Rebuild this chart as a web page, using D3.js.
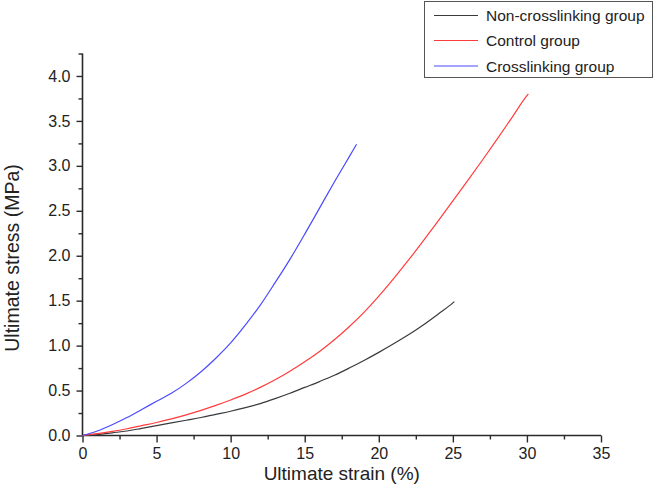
<!DOCTYPE html>
<html>
<head>
<meta charset="utf-8">
<script src="https://cdn.jsdelivr.net/npm/d3@7/dist/d3.min.js"></script>
<style>
  html, body { margin: 0; padding: 0; background: #fff; }
  svg { display: block; font-family: "Liberation Sans", Arial, sans-serif; }
</style>
</head>
<body>
<svg id="chart" width="660" height="498"></svg>
<script>
// ---- data ----
const seriesNames = ["Non-crosslinking group", "Control group", "Crosslinking group"];
const seriesColors = ["#3a3a3a", "#ff3c3c", "#4a4aff"];

const nonCrossStrain = [0, 1, 2, 3, 4, 5, 6, 7, 8, 9, 10, 11, 12, 13, 14, 15, 16, 17, 18, 19, 20, 21, 22, 23, 24, 25, 25.1];
const nonCrossStress = [0, 0.01, 0.03, 0.05, 0.08, 0.11, 0.14, 0.17, 0.20, 0.235, 0.27, 0.31, 0.355, 0.41, 0.47, 0.535, 0.60, 0.67, 0.75, 0.835, 0.925, 1.02, 1.12, 1.23, 1.35, 1.475, 1.49];

const controlStrain = [0, 1, 2, 3, 4, 5, 6, 7, 8, 9, 10, 11, 12, 13, 14, 15, 16, 17, 18, 19, 20, 21, 22, 23, 24, 25, 26, 27, 28, 29, 30, 30.1];
const controlStress = [0, 0.02, 0.045, 0.075, 0.11, 0.145, 0.185, 0.23, 0.28, 0.335, 0.395, 0.46, 0.535, 0.62, 0.715, 0.82, 0.935, 1.065, 1.21, 1.37, 1.55, 1.745, 1.95, 2.165, 2.385, 2.61, 2.835, 3.065, 3.30, 3.54, 3.78, 3.80];

const crossStrain = [0, 1, 2, 3, 4, 5, 6, 7, 8, 9, 10, 11, 12, 13, 14, 15, 16, 17, 18, 18.5];
const crossStress = [0, 0.05, 0.12, 0.20, 0.29, 0.38, 0.47, 0.58, 0.71, 0.86, 1.03, 1.23, 1.45, 1.70, 1.96, 2.24, 2.53, 2.82, 3.10, 3.24];

const xTickValues = [0, 5, 10, 15, 20, 25, 30, 35];
const yTickValues = [0, 0.5, 1.0, 1.5, 2.0, 2.5, 3.0, 3.5, 4.0];
const xTitle = "Ultimate strain (%)";
const yTitle = "Ultimate stress (MPa)";

// ---- layout ----
const svg = d3.select("#chart");
const plotLeft = 82.5, plotRight = 601, plotTop = 53.5, plotBottom = 435.5;
const x = d3.scaleLinear().domain([0, 35]).range([plotLeft, plotRight]);
const y = d3.scaleLinear().domain([0, 4.25]).range([plotBottom, plotTop]);

const axisColor = "#2a2a2a";

// minor ticks
const xMinor = d3.range(0, 35.001, 2.5).filter(v => v % 5 !== 0);
const yMinor = d3.range(0, 4.2501, 0.25).filter(v => Math.abs(v * 2 - Math.round(v * 2)) > 1e-6);

// X axis
const gx = svg.append("g").attr("transform", `translate(0,${plotBottom})`);
gx.call(d3.axisBottom(x).tickValues(xTickValues).tickFormat(d3.format("d")).tickSize(7).tickPadding(5));
gx.append("g").call(d3.axisBottom(x).tickValues(xMinor).tickFormat("").tickSize(4)).select(".domain").remove();

// Y axis
const gy = svg.append("g").attr("transform", `translate(${plotLeft},0)`);
gy.call(d3.axisLeft(y).tickValues(yTickValues).tickFormat(d3.format(".1f")).tickSize(6).tickPadding(6));
gy.append("g").call(d3.axisLeft(y).tickValues(yMinor).tickFormat("").tickSize(4)).select(".domain").remove();

svg.selectAll(".domain").attr("stroke", axisColor).attr("stroke-width", 1.6);
svg.selectAll(".tick line").attr("stroke", axisColor).attr("stroke-width", 1.4);
svg.selectAll(".tick text").attr("fill", "#222").style("font-size", "16px").style("font-family", '"Liberation Sans", Arial, sans-serif');
gx.select(".domain").attr("d", `M${plotLeft},0H${plotRight}`);
gy.select(".domain").attr("d", `M0,${plotBottom}V${plotTop}`);

// axis titles
svg.append("text")
  .attr("x", (plotLeft + plotRight) / 2).attr("y", 480)
  .attr("text-anchor", "middle")
  .attr("fill", "#222").style("font-size", "19px")
  .text(xTitle);
svg.append("text")
  .attr("transform", `translate(19,258) rotate(-90)`)
  .attr("text-anchor", "middle")
  .attr("fill", "#222").style("font-size", "19.5px")
  .text(yTitle);

// lines
const series = [
  { strain: nonCrossStrain, stress: nonCrossStress },
  { strain: controlStrain, stress: controlStress },
  { strain: crossStrain, stress: crossStress }
];
const line = d3.line().x(d => x(d[0])).y(d => y(d[1])).curve(d3.curveMonotoneX);
series.forEach((s, i) => {
  const pts = s.strain.map((v, j) => [v, s.stress[j]]);
  svg.append("path")
    .attr("d", line(pts))
    .attr("fill", "none")
    .attr("stroke", seriesColors[i])
    .attr("stroke-width", 1.2);
});

// legend
const lg = svg.append("g");
lg.append("rect")
  .attr("x", 424.5).attr("y", 1.5).attr("width", 228).attr("height", 76)
  .attr("fill", "#fff").attr("stroke", "#555").attr("stroke-width", 1);
const rowY = [15.5, 40.5, 66];
seriesNames.forEach((name, i) => {
  lg.append("line")
    .attr("x1", 434).attr("x2", 478).attr("y1", rowY[i]).attr("y2", rowY[i])
    .attr("stroke", seriesColors[i]).attr("stroke-width", 1.2);
  lg.append("text")
    .attr("x", 486).attr("y", rowY[i] + 5.5)
    .attr("fill", "#222").style("font-size", "15.5px")
    .text(name);
});
</script>
</body>
</html>
